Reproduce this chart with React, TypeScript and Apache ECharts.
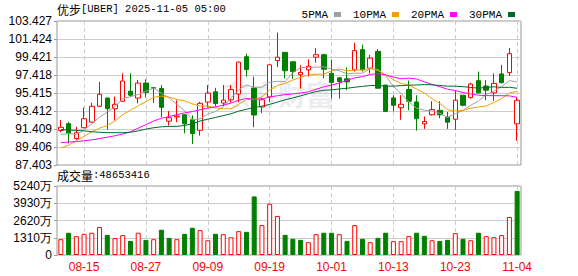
import React, { useEffect, useRef } from "react";
import * as echarts from "echarts";

const dates = ["08-12","08-13","08-14","08-15","08-18","08-19","08-20","08-21","08-22","08-25","08-26","08-27","08-28","08-29","09-02","09-03","09-04","09-05","09-08","09-09","09-10","09-11","09-12","09-15","09-16","09-17","09-18","09-19","09-22","09-23","09-24","09-25","09-26","09-29","09-30","10-01","10-02","10-03","10-06","10-07","10-08","10-09","10-10","10-13","10-14","10-15","10-16","10-17","10-20","10-21","10-22","10-23","10-24","10-27","10-28","10-29","10-30","10-31","11-03","11-04"];

const opens = [91.25,92.0,90.35,91.55,92.17,93.94,94.85,93.67,94.5,95.62,94.85,96.52,96.0,95.92,92.28,92.75,92.99,92.43,91.27,94.4,95.55,94.3,94.66,95.3,99.45,95.97,93.86,94.98,99.02,99.94,98.89,97.45,97.99,99.4,99.68,97.6,97.1,97.0,97.99,100.24,98.18,100.05,96.3,94.87,93.78,95.81,94.42,91.98,92.99,93.48,92.73,92.5,95.17,94.9,96.79,96.19,95.43,97.54,97.69,91.98];
const closes = [91.6,90.9,91.0,92.55,93.94,95.27,93.67,94.16,96.75,95.17,96.52,95.49,95.95,93.82,92.66,92.85,91.98,90.9,94.27,95.4,94.24,94.62,95.8,98.85,98.02,92.97,94.66,98.55,99.4,97.89,97.8,97.7,98.4,99.68,98.06,96.6,96.7,96.65,100.13,97.99,99.3,95.95,93.37,94.05,94.16,94.5,92.55,92.25,93.56,92.99,92.17,94.61,94.05,96.41,95.43,95.73,96.49,96.56,99.79,94.61];
const highs = [92.4,92.2,91.65,93.8,94.35,96.65,94.95,95.02,97.61,97.61,96.86,96.94,96.1,96.3,93.41,94.6,93.05,92.92,94.42,96.3,95.99,96.3,96.3,98.9,99.79,97.24,94.9,98.6,102.15,99.94,98.9,98.5,99.15,100.4,99.8,99.1,97.2,98.25,101.0,100.8,99.68,100.3,96.3,95.17,95.17,96.8,95.17,92.8,94.5,94.5,93.3,95.7,95.17,96.56,97.8,96.86,97.6,98.55,100.43,94.98];
const lows = [91.05,89.8,90.2,91.5,92.1,93.86,91.33,92.36,94.42,95.0,94.27,94.9,94.3,92.7,91.8,92.17,90.93,89.75,90.67,93.8,93.94,93.94,94.35,94.4,97.24,91.6,93.18,94.4,98.3,97.05,97.0,95.9,97.24,98.78,97.05,94.8,94.8,95.73,97.8,97.8,97.6,96.0,93.3,93.37,92.43,93.48,91.23,91.42,92.92,92.6,91.42,91.3,93.93,94.8,95.36,94.6,94.53,96.49,97.3,90.1];

// volume, in 万 shares
const volumes = [1200,1690,1430,1610,1690,2120,1530,1280,1510,1070,1690,1150,1200,1920,1300,1200,1610,2070,1890,1120,1610,1580,1350,1810,1760,4450,2270,3890,2970,1530,1230,1150,970,1580,1690,1690,1580,1070,2270,1230,970,1300,1690,1050,1050,1430,1690,1460,1120,1070,1150,1660,1230,1120,1690,1430,1350,1510,2890,4865.3416];

// moving-average values for the days before enough closes exist
const ma5Head = [90.8, 90.9, 90.8, 91.3];
const ma10Head = [89.3, 89.6, 90.1, 90.6, 91.1, 91.5, 91.8, 92.3, 93.0];
const ma20Head = [89.9, 89.95, 90.0, 90.1, 90.2, 90.35, 90.5, 90.65, 90.85, 91.1, 91.5, 91.9, 92.3, 92.6, 92.8, 93.0, 93.2, 93.35, 93.55];
const ma30Head = [91.35, 91.3, 91.25, 91.2, 91.1, 91.05, 91.0, 91.0, 91.0, 91.05, 91.2, 91.4, 91.55, 91.65, 91.7, 91.7, 91.8, 92.0, 92.3, 92.5, 92.7, 92.9, 93.1, 93.4, 93.6, 93.8, 93.95, 94.15, 94.4];

const priceTicks = { min: 87.403, max: 103.427, step: 2.003 };
const volTicks = { max: 5240, step: 1310 };
const titleText = "[UBER] 2025-11-05 05:00";
const titleName = "优步";
const volLabel = "48653416";

const UP = "#FF0000";
const DOWN = "#008000";

function movingAvg(n: number, head: number[]) {
  return closes.map((_, i) => {
    if (i < n - 1) return head[i];
    let s = 0;
    for (let k = i - n + 1; k <= i; k++) s += closes[k];
    return s / n;
  });
}

export default function App() {
  const ref = useRef<HTMLDivElement>(null);
  useEffect(() => {
    if (!ref.current) return;
    const chart = echarts.init(ref.current, undefined, { renderer: "svg" });
    const base = priceTicks.min;
    const span = +(priceTicks.max - priceTicks.min).toFixed(3);
    const labelInterval = (idx: number) => idx % 8 === 3;
    const mono = "'Liberation Mono', 'Noto Sans CJK SC', monospace";
    const sans = "'Liberation Sans', Arial, sans-serif";
    const maDefs = [
      { name: "5PMA", n: 5, head: ma5Head, color: "#A0A0A0" },
      { name: "10PMA", n: 10, head: ma10Head, color: "#F5A000" },
      { name: "20PMA", n: 20, head: ma20Head, color: "#FF00FF" },
      { name: "30PMA", n: 30, head: ma30Head, color: "#006A2E" },
    ];
    const xCommon = {
      type: "category",
      data: dates,
      boundaryGap: true,
      axisLine: { show: false },
      axisTick: { show: false, alignWithLabel: true },
      splitLine: {
        show: true,
        interval: labelInterval,
        alignWithLabel: true,
        lineStyle: { color: "#cccccc", type: [4, 3], width: 1 },
      },
    };
    const option: any = {
      animation: false,
      backgroundColor: "#ffffff",
      legend: {
        data: maDefs.map((m) => m.name),
        right: 58,
        top: 4,
        align: "right",
        icon: "rect",
        itemWidth: 7,
        itemHeight: 5,
        itemGap: 12,
        textStyle: { fontSize: 11, fontFamily: mono, color: "#000", padding: [0, 1, 0, 0] },
      },
      graphic: [
        {
          type: "text",
          left: 222,
          top: 80,
          z: -10,
          silent: true,
          style: { text: "东方财富", fontSize: 28, fontWeight: "bold", fill: "#ececf1", fontFamily: "'Noto Sans CJK SC'" },
        },
        {
          type: "text",
          left: 57,
          top: 3,
          style: {
            text: "{a|" + titleName + "}{b|" + titleText + "}",
            rich: {
              a: { fontSize: 12, fontFamily: "'Noto Sans CJK SC'", fill: "#000" },
              b: { fontSize: 10.5, fontFamily: mono, fill: "#000" },
            },
          },
        },
        {
          type: "text",
          left: 57,
          top: 169,
          style: {
            text: "{a|成交量}{b|:" + volLabel + "}",
            rich: {
              a: { fontSize: 12, fontFamily: "'Noto Sans CJK SC'", fill: "#000" },
              b: { fontSize: 10.5, fontFamily: mono, fill: "#000" },
            },
          },
        },
      ],
      grid: [
        { left: 57, right: 57, top: 21, height: 144, show: true, borderColor: "#999999", borderWidth: 1 },
        { left: 57, right: 57, top: 186, height: 69, show: true, borderColor: "#999999", borderWidth: 1 },
      ],
      xAxis: [
        { ...xCommon, gridIndex: 0, axisLabel: { show: false } },
        {
          ...xCommon,
          gridIndex: 1,
          axisLabel: { show: true, interval: labelInterval, color: "#FF0000", fontSize: 12, fontFamily: sans, margin: 6 },
        },
      ],
      yAxis: [
        {
          type: "value",
          gridIndex: 0,
          min: 0,
          max: span,
          interval: priceTicks.step,
          axisLine: { show: false },
          axisTick: { show: true, length: 3, lineStyle: { color: "#999999" } },
          axisLabel: {
            color: "#000",
            fontSize: 12,
            fontFamily: sans,
            margin: 5,
            formatter: (v: number) => (v + base).toFixed(3),
          },
          splitLine: { show: true, lineStyle: { color: "#cccccc", width: 1 } },
        },
        {
          type: "value",
          gridIndex: 1,
          min: 0,
          max: volTicks.max,
          interval: volTicks.step,
          axisLine: { show: false },
          axisTick: { show: true, length: 3, lineStyle: { color: "#999999" } },
          axisLabel: {
            color: "#000",
            fontSize: 12,
            fontFamily: sans,
            margin: 5,
            formatter: (v: number) => (v === 0 ? "0" : v + "万"),
          },
          splitLine: { show: true, lineStyle: { color: "#cccccc", width: 1 } },
        },
      ],
      series: [
        {
          type: "candlestick",
          name: "K",
          xAxisIndex: 0,
          yAxisIndex: 0,
          barWidth: 5,
          itemStyle: {
            color: "#ffffff",
            color0: DOWN,
            borderColor: UP,
            borderColor0: DOWN,
            borderWidth: 1,
          },
          data: dates.map((_, i) => [opens[i] - base, closes[i] - base, lows[i] - base, highs[i] - base]),
        },
        ...maDefs.map((m) => ({
          type: "line",
          name: m.name,
          xAxisIndex: 0,
          yAxisIndex: 0,
          symbol: "none",
          smooth: false,
          lineStyle: { width: 1, color: m.color },
          itemStyle: { color: m.color },
          data: movingAvg(m.n, m.head).map((v) => v - base),
        })),
        {
          type: "bar",
          name: "VOL",
          xAxisIndex: 1,
          yAxisIndex: 1,
          barWidth: 5,
          data: volumes.map((v, i) => {
            const up = i === 0 || closes[i] >= closes[i - 1];
            return {
              value: v,
              itemStyle: up
                ? { color: "#ffffff", borderColor: UP, borderWidth: 1 }
                : { color: DOWN, borderColor: DOWN, borderWidth: 1 },
            };
          }),
        },
      ],
    };
    chart.setOption(option);
    return () => chart.dispose();
  }, []);
  return (
    <div
      ref={ref}
      style={{ position: "absolute", left: 0, top: 0, width: 578, height: 276 }}
    />
  );
}
